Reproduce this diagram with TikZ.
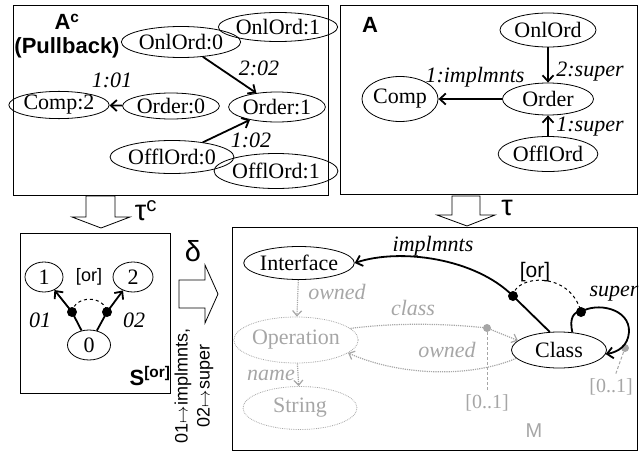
\documentclass[tikz,border=0pt]{standalone}
\usepackage{fontspec}
\setmainfont{Liberation Serif}
\setsansfont{Liberation Sans}
\usetikzlibrary{arrows.meta,shapes.geometric}
\colorlet{fadegray}{black!35}

\begin{document}
\begin{tikzpicture}[
			x=1pt,y=-1pt,
			panel/.style={
				draw,
				line width=0.9pt
			},
			elem/.style 2 args={
				ellipse,
				draw,
				line width=0.8pt,
				inner sep=0pt,
				minimum width=#1pt,
				minimum height=#2pt,
				font=\fontsize{22}{24}\selectfont
			},
			fadeelem/.style 2 args={
				elem={#1}{#2},
				densely dotted,
				draw=fadegray,
				text=fadegray
			},
			edge/.style={
				-{Straight Barb[length=6pt,width=11pt]},
				line width=1.8pt
			},
			fadeedge/.style={
				-{Straight Barb[length=5pt,width=9pt]},
				densely dotted,
				line width=1.2pt,
				draw=fadegray
			},
			lbl/.style={
				font=\fontsize{22}{24}\selectfont\itshape
			},
			fadelbl/.style={
				lbl,
				text=fadegray
			},
			title/.style={
				align=center,
				font=\fontsize{22}{24}\selectfont\sffamily\bfseries
			},
			greek/.style={
				font=\fontsize{29}{30}\selectfont\sffamily
			},
			dot/.style={
				circle,
				fill,
				inner sep=0pt,
				minimum size=10pt
			},
			blockarrow/.style={
				draw,
				line width=0.8pt,
				fill=white
			}
			]
			
			\useasboundingbox (0,0) rectangle (639,452);
			
			% Panels
			\draw[panel] (13,5) rectangle (328,195);
			\draw[panel] (340,5) rectangle (637,194);
			\draw[panel] (20,233) rectangle (170,393);
			\draw[panel] (232,227) rectangle (637,450);
			
			% Pullback A^c
			\node[title] (pbtitle) at (67,36) {A\textsuperscript{c}\\(Pullback)};
			\node[elem={98}{31}] (onl0) at (181,42) {OnlOrd:0};
			\node[elem={95}{29}] (onl1) at (278,27) {OnlOrd:1};
			\node[elem={85}{26}] (ord0) at (171,106) {Order:0};
			\node[elem={89}{30}] (ord1) at (277,107) {Order:1};
			\node[elem={88}{24}] (comp2) at (59,105) {Comp:2};
			\node[elem={101}{33}] (off0) at (172,157) {OfflOrd:0};
			\node[elem={98}{35}] (off1) at (276,171) {OfflOrd:1};
			
			\draw[edge] (onl0) -- (ord1);
			\draw[edge] (ord0) -- (comp2);
			\draw[edge] (off0) -- (ord1);
			\node[lbl] (l202) at (259,68) {2:02};
			\node[lbl] (l101) at (112,80) {1:01};
			\node[lbl] (l102) at (251,140) {1:02};
			
			% Instance A
			\node[title] (atitle) at (370,25) {A};
			\node[elem={96}{34}] (onl) at (548,30) {OnlOrd};
			\node[elem={91}{32}] (ord) at (548,99) {Order};
			\node[elem={65}{45}] (comp) at (400,99) {Comp};
			\node[elem={90}{35}] (off) at (548,154) {OfflOrd};
			
			\draw[edge] (onl) -- (ord);
			\draw[edge] (ord) -- (comp);
			\draw[edge] (off) -- (ord);
			\node[lbl] (l2sup) at (590,72) {2:super};
			\node[lbl] (l1imp) at (475,77) {1:implmnts};
			\node[lbl] (l1sup) at (590,127) {1:super};
			
			% Block arrows
			\draw[blockarrow] (86,196) -- (86,217) -- (72,217) -- (101,228)
			-- (130,217) -- (115,217) -- (115,196) -- cycle;
			\node[greek] (tauc) at (146,211) {τ\textsuperscript{c}};
			
			\draw[blockarrow] (452,196) -- (452,215) -- (437,215) -- (467,226)
			-- (495,215) -- (480,215) -- (480,196) -- cycle;
			\node[greek] (tau) at (507,208) {τ};
			
			\draw[blockarrow] (179,280) -- (205,280) -- (205,265) -- (218,294)
			-- (205,323) -- (205,308) -- (179,308) -- cycle;
			\node[greek] (delta) at (193,251) {δ};
			\node[rotate=90,align=center,font=\fontsize{18}{22}\selectfont\sffamily] (map)
			at (194,386) {01$\mapsto$implmnts,\\02$\mapsto$super};
			
			% Signature S[or]
			\node[elem={38}{30}] (s1) at (44,277) {1};
			\node[elem={40}{30}] (s2) at (133,277) {2};
			\node[elem={43}{30}] (s0) at (89,345) {0};
			\node[dot] (sl) at (72,312) {};
			\node[dot] (sr) at (107,312) {};
			\draw[edge] (s0) -- (sl.center) -- (s1);
			\draw[edge] (s0) -- (sr.center) -- (s2);
			\draw[dashed,line width=1pt] (sl.center) .. controls (75,295) and (104,295) .. (sr.center);
			\node[font=\fontsize{18}{20}\selectfont\sffamily] (sor) at (89,277) {[or]};
			\node[lbl] (s01) at (40,320) {01};
			\node[lbl] (s02) at (134,320) {02};
			\node[title] (stitle) at (150,376) {S\textsuperscript{[or]}};
			
			% Metamodel M, faded part
			\node[fadeelem={122}{46}] (oper) at (296,340) {Operation};
			\node[fadeelem={114}{43}] (str) at (300,408) {String};
			\node[dot,fill=fadegray,minimum size=8pt] (g1) at (487,328) {};
			\node[dot,fill=fadegray,minimum size=8pt] (g2) at (625,348) {};
			\node[text=fadegray,font=\fontsize{20}{22}\selectfont] (m1) at (487,403) {[0..1]};
			\node[text=fadegray,font=\fontsize{20}{22}\selectfont] (m2) at (611,387) {[0..1]};
			\node[text=fadegray,font=\fontsize{20}{22}\selectfont\sffamily] (mname) at (534,431) {M};
			
			% Metamodel M, visible part
			\node[elem={95}{33}] (iface) at (299,263) {Interface};
			\node[elem={95}{36}] (cls) at (559,350) {Class};
			\node[dot] (d1) at (513,296) {};
			\node[dot] (d2) at (581,312) {};
			
			\draw[fadeedge] (iface) -- (oper);
			\draw[fadeedge] (oper) -- (str);
			\draw[fadeedge] (oper.12) .. controls (400,322) and (450,324) .. (g1.center) -- (cls.167);
			\draw[fadeedge] (cls.191) .. controls (470,378) and (400,376) .. (oper.-14);
			\draw[densely dashed,line width=1pt,draw=fadegray] (g1) -- (m1);
			\draw[densely dashed,line width=1pt,draw=fadegray] (g2) -- (m2);
			\node[fadelbl] (lowned1) at (337,292) {owned};
			\node[fadelbl] (lname) at (271,375) {name};
			\node[fadelbl] (lclass) at (413,308) {class};
			\node[fadelbl] (lowned2) at (447,350) {owned};
			
			\draw[edge] (cls.117) -- (d1.center) .. controls (475,258) and (400,248) .. (iface.east);
			\draw[edge] (cls.53) .. controls (569,318) and (574,311) .. (d2.center)
			.. controls (596,302) and (630,308) .. (629,332)
			.. controls (628,346) and (618,352) .. (cls.-5);
			\draw[dashed,line width=1pt] (d1.center) .. controls (515,275) and (570,270) .. (d2.center);
			\node[font=\fontsize{21}{22}\selectfont\sffamily] (mor) at (535,272) {[or]};
			\node[lbl] (limp) at (433,246) {implmnts};
			\node[lbl,anchor=west] (lsup) at (586,294) {super};
			
		\end{tikzpicture}
\end{document}
